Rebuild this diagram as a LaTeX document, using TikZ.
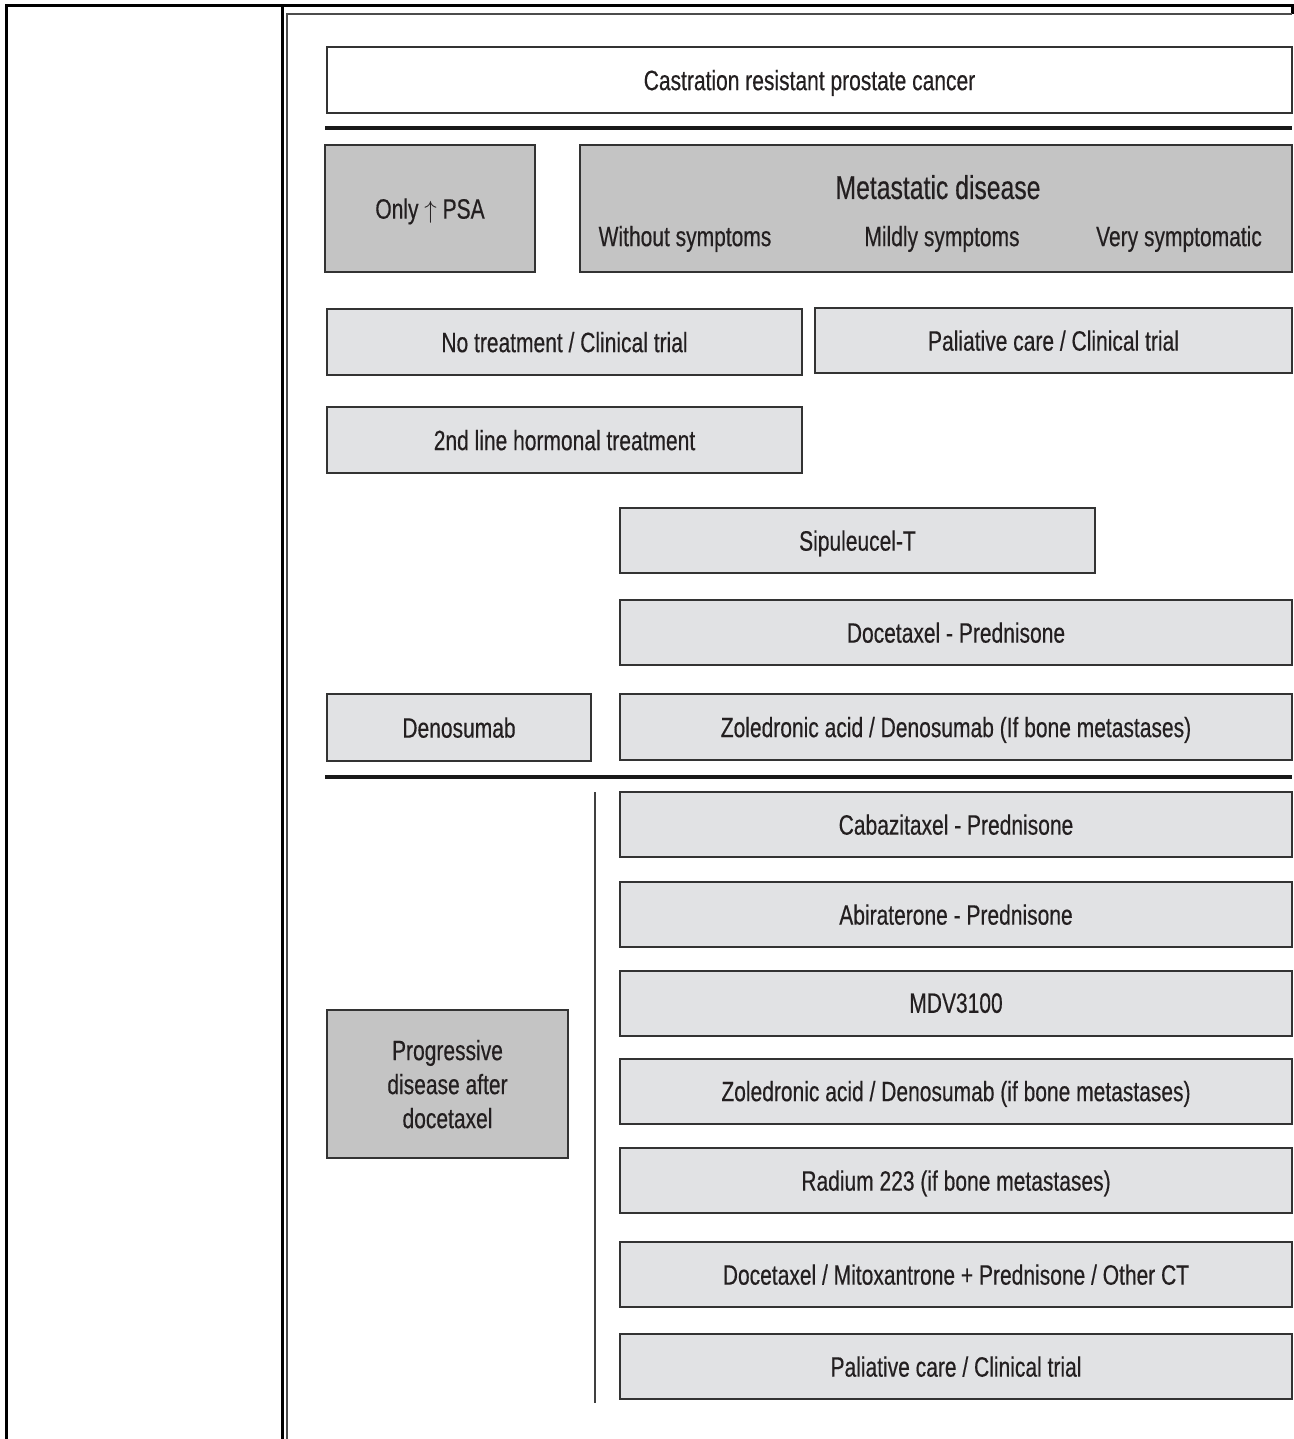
\documentclass[tikz,border=0pt]{standalone}
\usepackage{fontspec}
\setmainfont{Liberation Sans}[FakeStretch=0.75,FakeBold=0.4]
\definecolor{darkfill}{HTML}{C4C4C4}
\definecolor{lightfill}{HTML}{E1E2E4}
\definecolor{edge}{HTML}{333333}
\definecolor{ink}{HTML}{231F20}
\tikzset{
  boxbase/.style={draw=edge, line width=2pt, inner sep=0pt, text=ink,
    font=\fontsize{28}{34}\selectfont, align=center, text depth=0pt},
  whitebox/.style={boxbase, fill=white},
  darkbox/.style={boxbase, fill=darkfill},
  lightbox/.style={boxbase, fill=lightfill},
  plain/.style={inner sep=0pt, text=ink, font=\fontsize{28}{34}\selectfont, text depth=0pt},
  rule/.style={line width=4pt, color=black!90},
  tableline/.style={line width=3pt, color=black},
  frameline/.style={line width=2pt, color=black!70},
}
\begin{document}
\begin{tikzpicture}[x=1pt,y=-1pt]
\useasboundingbox (0,0) rectangle (1293,1439);
% table and frame
\draw[tableline] (6,1439) -- (6,6) -- (1292,6) -- (1292,14);
\draw[tableline] (282,6) -- (282,1439);
\draw[frameline] (287,1439) -- (287,14) -- (1292,14);
% title
\node[whitebox, minimum width=965, minimum height=66] (title) at (809.5,80) {Castration resistant prostate cancer};
\draw[rule] (325,128) -- (1292,128);
% second row
\node[darkbox, minimum width=210, minimum height=127] (psa) at (430,208.5) {Only {\fontsize{34}{34}\selectfont$\uparrow$} PSA};
\node[darkbox, minimum width=712, minimum height=127] (meta) at (936,208.5) {};
\node[plain, font=\fontsize{33}{36}\selectfont] (metatitle) at (938,187) {Metastatic disease};
\node[plain] (without) at (685,236) {Without symptoms};
\node[plain] (mildly) at (942,236) {Mildly symptoms};
\node[plain] (very) at (1179,236) {Very symptomatic};
% treatment boxes
\node[lightbox, minimum width=475, minimum height=66] (notreat) at (564.5,342) {No treatment / Clinical trial};
\node[lightbox, minimum width=477, minimum height=65] (palone) at (1053.5,340.5) {Paliative care / Clinical trial};
\node[lightbox, minimum width=475, minimum height=66] (hormonal) at (564.5,440) {2nd line hormonal treatment};
\node[lightbox, minimum width=475, minimum height=65] (sipu) at (857.5,540.5) {Sipuleucel-T};
\node[lightbox, minimum width=672, minimum height=65] (docet) at (956,632.5) {Docetaxel - Prednisone};
\node[lightbox, minimum width=264, minimum height=67] (denos) at (459,727.5) {Denosumab};
\node[lightbox, minimum width=672, minimum height=66] (zolone) at (956,727) {Zoledronic acid / Denosumab (If bone metastases)};
\draw[rule] (325,777) -- (1292,777);
% after docetaxel
\coordinate (vtop) at (595,792);
\coordinate (vbot) at (595,1403);
\draw[line width=2pt, color=black!75] (vtop) -- (vbot);
\node[darkbox, minimum width=241, minimum height=148] (prog) at (447.5,1084) {Progressive\\disease after\\docetaxel};
\node[lightbox, minimum width=672, minimum height=65] (caba) at (956,824.5) {Cabazitaxel - Prednisone};
\node[lightbox, minimum width=672, minimum height=65] (abira) at (956,914.5) {Abiraterone - Prednisone};
\node[lightbox, minimum width=672, minimum height=65] (mdv) at (956,1003) {MDV3100};
\node[lightbox, minimum width=672, minimum height=65] (zoltwo) at (956,1091) {Zoledronic acid / Denosumab (if bone metastases)};
\node[lightbox, minimum width=672, minimum height=65] (radium) at (956,1180.5) {Radium 223 (if bone metastases)};
\node[lightbox, minimum width=672, minimum height=65] (mito) at (956,1274.5) {Docetaxel / Mitoxantrone + Prednisone / Other CT};
\node[lightbox, minimum width=672, minimum height=65] (paltwo) at (956,1366.5) {Paliative care / Clinical trial};
\end{tikzpicture}
\end{document}
